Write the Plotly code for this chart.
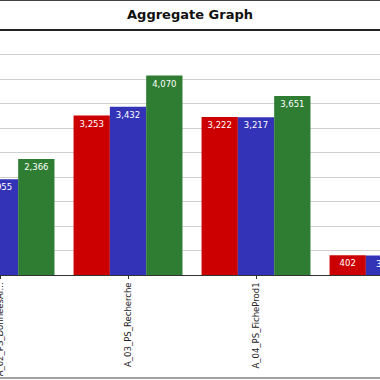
import plotly.graph_objects as go

categories = ["A_02_PS_DonneesAr...", "A_03_PS_Recherche", "A_04_PS_FicheProd1", "A_05_PS_Panier"]
series_names = ["Average", "Median", "90% Line"]
red_values = [None, 3253, 3222, 402]
blue_values = [1955, 3432, 3217, 396]
green_values = [2366, 4070, 3651, None]

colors = ["#cc0000", "#3333b8", "#2e7d32"]
values = [red_values, blue_values, green_values]

fig = go.Figure()
for name, vals, col in zip(series_names, values, colors):
    fig.add_trace(go.Bar(
        x=list(range(len(categories))), y=vals, name=name,
        marker=dict(color=col, line=dict(width=0)),
        text=[f"{v:,}" if v is not None else "" for v in vals],
        textposition="inside", insidetextanchor="end",
        textangle=0, constraintext="none",
        textfont=dict(color="white", size=8.5, family="DejaVu Sans"),
    ))

H = 245.0
def py(px):
    return (275.0 - px) / H

fig.update_layout(
    width=380, height=380,
    margin=dict(l=0, r=0, t=30, b=105, autoexpand=False),
    paper_bgcolor="white", plot_bgcolor="white",
    barmode="group", bargap=0.149, bargroupgap=0,
    showlegend=False,
    title=dict(text="<b>Aggregate Graph</b>", x=0.5, xanchor="center",
               y=1 - 14 / 380, yanchor="middle", yref="container",
               font=dict(family="DejaVu Sans", size=13, color="#111")),
    xaxis=dict(
        tickmode="array", tickvals=list(range(len(categories))), ticktext=categories,
        range=[-0.0001, -0.0001 + 380 / 128], tickangle=-90,
        ticks="outside", ticklen=3, tickcolor="#333",
        showline=True, linecolor="#333", linewidth=1, automargin=False,
        showgrid=False, zeroline=False, ticklabeloverflow="allow",
        tickfont=dict(family="DejaVu Sans", size=8.5, color="#222"),
    ),
    yaxis=dict(
        range=[0, 5000], dtick=500, showticklabels=False, automargin=False,
        showgrid=True, gridcolor="#d0d0d0", gridwidth=1, zeroline=False,
    ),
    shapes=[
        dict(type="line", xref="paper", yref="paper", x0=0, x1=1, y0=py(0.5), y1=py(0.5),
             line=dict(color="#444", width=1)),
        dict(type="line", xref="paper", yref="paper", x0=0, x1=1, y0=py(30), y1=py(30),
             line=dict(color="#222", width=2)),
        dict(type="line", xref="paper", yref="paper", x0=0, x1=1, y0=py(378), y1=py(378),
             line=dict(color="#444", width=1)),
    ],
)

fig.write_html("out.html", config={"displayModeBar": False},
               post_script="document.body.style.margin='0';document.body.style.overflow='hidden';")
